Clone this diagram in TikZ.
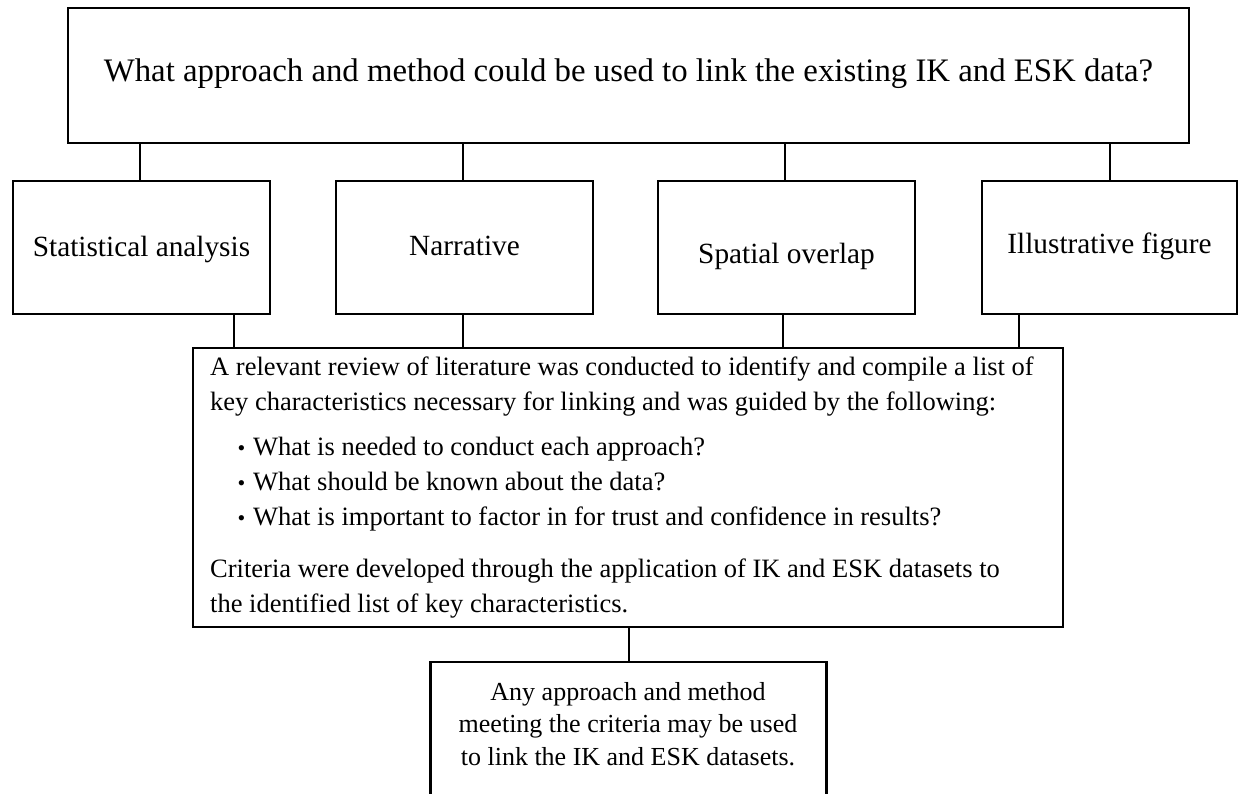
\documentclass[tikz,border=0pt]{standalone}
\usepackage{fontspec}
\setmainfont{Liberation Serif}
\newcommand{\itemdot}{\makebox[43pt][r]{\raisebox{-0.5pt}{\fontsize{22}{22}\selectfont\textbullet}\hspace{8pt}}}
\begin{document}
\begin{tikzpicture}[x=1pt,y=-1pt,
  box/.style={draw,line width=2.7pt,rectangle,inner sep=0pt},
  link/.style={line width=2.7pt},
  label/.style={box,minimum width=257pt,minimum height=133pt,text depth=6pt,
    font=\fontsize{29.3}{34}\selectfont}]
\clip (0,0) rectangle (1238,794);
\useasboundingbox (0,0) rectangle (1238,794);

% question
\node[box,minimum width=1121pt,minimum height=135pt,text height=23pt,text depth=10pt,
  font=\fontsize{32.8}{38}\selectfont] (top) at (628.5,75.5)
  {What approach and method could be used to link the existing IK and ESK data?};

% four approaches
\node[label,text height=23pt] (stat) at (141.5,247.5) {Statistical analysis};
\node[label,text height=21pt] (narr) at (464.5,247.5) {Narrative};
\node[label,text height=37pt] (spat) at (786.5,247.5) {Spatial overlap};
\node[label,minimum width=255pt,text height=17pt] (illu) at (1109.5,247.5) {Illustrative figure};

% literature review
\node[box,minimum width=870pt,minimum height=279pt] (rev) at (628,487.5) {};
\node[inner sep=0pt,anchor=north west,align=left,
  font=\fontsize{26.5}{35}\selectfont] (revtext) at (210,351) {%
\rule{0pt}{24pt}A relevant review of literature was conducted to identify and compile a list of\\
key characteristics necessary for linking and was guided by the following:\\[10pt]
\itemdot What is needed to conduct each approach?\\
\itemdot What should be known about the data?\\
\itemdot What is important to factor in for trust and confidence in results?\\[17pt]
Criteria were developed through the application of IK and ESK datasets to\\
the identified list of key characteristics.};

% outcome
\node[box,minimum width=396pt,minimum height=160pt] (out) at (628.5,742) {};
\node[inner sep=0pt,anchor=north,align=center,
  font=\fontsize{26}{32.5}\selectfont] (outtext) at (628,676)
  {\rule{0pt}{24pt}Any approach and method\\meeting the criteria may be used\\to link the IK and ESK datasets.};

% connector positions
\coordinate (a1) at (140,0);
\coordinate (a2) at (463,0);
\coordinate (a3) at (785,0);
\coordinate (a4) at (1110,0);
\coordinate (b1) at (234,0);
\coordinate (b2) at (463,0);
\coordinate (b3) at (783,0);
\coordinate (b4) at (1019,0);
\coordinate (c1) at (629,0);

\draw[link] (top.south -| a1) -- (stat.north -| a1);
\draw[link] (top.south -| a2) -- (narr.north -| a2);
\draw[link] (top.south -| a3) -- (spat.north -| a3);
\draw[link] (top.south -| a4) -- (illu.north -| a4);
\draw[link] (stat.south -| b1) -- (rev.north -| b1);
\draw[link] (narr.south -| b2) -- (rev.north -| b2);
\draw[link] (spat.south -| b3) -- (rev.north -| b3);
\draw[link] (illu.south -| b4) -- (rev.north -| b4);
\draw[link] (rev.south -| c1) -- (out.north -| c1);
\end{tikzpicture}
\end{document}
